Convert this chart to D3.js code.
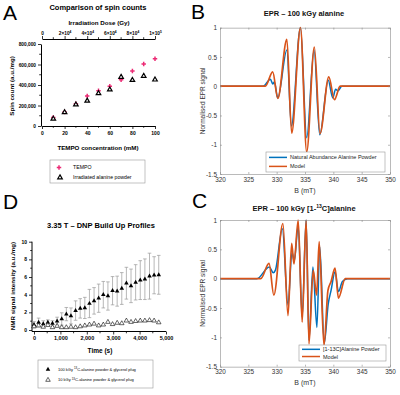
<!DOCTYPE html>
<html>
<head>
<meta charset="utf-8">
<script src="https://cdn.jsdelivr.net/npm/d3@7"></script>
<style>
body { margin: 0; background: #fff; }
svg { display: block; font-family: "Liberation Sans", Arial, sans-serif; }
</style>
</head>
<body>
<div id="fig"></div>
<script>
// ---- panel A: spin counts
var tempoConc = [10, 20, 30, 40, 50, 60, 70, 80, 90, 100];
var tempoSpin = [84000, 136000, 218000, 292000, 345000, 388000, 451000, 537000, 604000, 657000];
var alanineSpin = [70000, 133000, 209000, 246000, 318000, 355000, 478000, 448000, 488000, 452000];
var concTicks = [0, 20, 40, 60, 80, 100];
var spinTicks = [0, 200000, 400000, 600000, 800000];
var doseTicks = [0, 20000, 40000, 60000, 80000, 100000];
var doseLabels = [['0', ''], ['2×10', '4'], ['4×10', '4'], ['6×10', '4'], ['8×10', '4'], ['1×10', '5']];

// ---- panel D: DNP build up
var buildTime = [0, 175, 350, 525, 700, 875, 1050, 1225, 1400, 1575, 1750, 1925, 2100, 2275,
  2450, 2625, 2800, 2975, 3150, 3325, 3500, 3675, 3850, 4025, 4200, 4375, 4550, 4725];
var signal100 = [0.6, 0.85, 0.7, 0.85, 0.75, 1.0, 1.25, 1.8, 1.6, 2.2, 2.45, 2.5, 3.0, 3.3,
  3.6, 4.0, 3.85, 4.45, 4.4, 4.7, 5.3, 5.0, 5.4, 5.65, 5.75, 6.1, 6.2, 6.25];
var error100 = [0.35, 0.5, 0.35, 0.3, 0.3, 0.45, 0.7, 0.75, 0.9, 1.1, 1.1, 1.2, 1.6, 1.5,
  1.6, 1.5, 1.6, 1.6, 1.7, 1.8, 1.8, 1.9, 2.0, 2.2, 2.3, 2.6, 2.1, 2.2];
var signal10 = [0.4, 0.5, 0.35, 0.55, 0.3, 0.45, 0.3, 0.3, 0.35, 0.3, 0.4, 0.5, 0.6, 0.7,
  0.5, 0.6, 0.9, 0.65, 0.8, 0.75, 1.05, 0.9, 1.0, 1.05, 1.05, 1.1, 1.05, 0.85];
var timeTicks = [0, 1000, 2000, 3000, 4000, 5000];
var signalTicks = [0, 2, 4, 6, 8, 10];

// ---- panel B: natural abundance alanine
var fieldB_data = [320, 327.6, 328.9, 329.3, 329.6, 330.2, 331.8, 332.6, 334.2, 335.3, 336.6, 337.6, 339.1, 339.9, 340.4, 340.8, 341.5, 350];
var eprB_data = [0, 0, 0.12, 0.04, 0.07, -0.2, 0.62, -0.68, 1.0, -0.88, 0.62, -0.83, 0.1, -0.2, -0.05, -0.08, 0, 0];
var fieldB_model = [320, 328.0, 329.3, 330.2, 331.8, 332.65, 334.2, 335.3, 336.65, 337.65, 339.2, 340.2, 341.2, 350];
var eprB_model = [0, 0, 0.245, -0.21, 0.80, -0.80, 1.0, -1.12, 0.67, -0.81, 0.16, -0.23, 0, 0];

// ---- panel C: [1-13C]alanine
var fieldC_data = [320, 326.5, 328.7, 329.4, 329.8, 331.0, 332.0, 332.7, 333.1, 333.8, 334.5, 335.2, 335.7, 336.4, 337.1, 337.6, 338.4, 339.1, 339.6, 340.3, 340.9, 341.6, 342.5, 350];
var eprC_data = [0, 0, 0.2, 0.1, 0.15, 0.85, -0.45, 0.45, 0.3, 0.9, -0.65, 1.0, -1.05, 0.2, -0.83, 0.55, -1.1, -0.43, -0.2, 0.12, -0.22, -0.05, 0, 0];
var fieldC_model = [320, 327.2, 328.65, 329.5, 331.1, 332.0, 332.65, 333.05, 333.8, 334.5, 335.2, 335.7, 336.45, 337.05, 337.5, 338.35, 339.05, 339.6, 340.3, 340.9, 342.1, 350];
var eprC_model = [0, 0, 0.26, -0.28, 0.94, -0.63, 0.6, 0.25, 1.0, -0.74, 1.0, -1.11, 0.14, -0.28, 0.63, -1.14, -0.2, -0.05, 0.18, -0.33, 0, 0];

var fieldTicks = [320, 325, 330, 335, 340, 345, 350];
var eprTicks = [-1.5, -1, -0.5, 0, 0.5, 1];

var blue = '#0072BD', orange = '#D95319', pink = '#ec2a74';

var svg = d3.select('#fig').append('svg')
  .attr('width', 400)
  .attr('height', 395);

// panel letters
[['A', 3, 20], ['B', 191, 19], ['D', 3, 209], ['C', 192, 208]].forEach(function(l) {
  svg.append('text').attr('x', l[1]).attr('y', l[2]).attr('font-size', 21).text(l[0]);
});

function styleAxis(g, fs) {
  g.select('.domain').attr('stroke', '#000').attr('stroke-width', 1);
  g.selectAll('.tick line').attr('stroke', '#000').attr('stroke-width', 0.8);
  g.selectAll('.tick text').attr('font-size', fs).attr('font-weight', 'bold').attr('fill', '#000');
}

function minorTicks(g, scale, vals, dir, len) {
  g.selectAll('line.minor').data(vals).enter().append('line')
    .attr('class', 'minor')
    .attr('stroke', '#000').attr('stroke-width', 0.8)
    .attr('x1', function(d) { return dir == 'h' ? scale(d) : 0; })
    .attr('x2', function(d) { return dir == 'h' ? scale(d) : -len; })
    .attr('y1', function(d) { return dir == 'h' ? 0 : scale(d); })
    .attr('y2', function(d) { return dir == 'h' ? len : scale(d); });
}

// ================= A =================
var xA = d3.scaleLinear().domain([0, 100]).range([42, 155]);
var xDose = d3.scaleLinear().domain([0, 100000]).range([42, 155]);
var yA = d3.scaleLinear().domain([0, 800000]).range([126, 44]);

svg.append('text').attr('x', 98).attr('y', 10).attr('text-anchor', 'middle')
  .attr('font-size', 7.5).attr('font-weight', 'bold').text('Comparison of spin counts');
svg.append('text').attr('x', 99).attr('y', 25).attr('text-anchor', 'middle')
  .attr('font-size', 6.2).attr('font-weight', 'bold').text('Irradiation Dose (Gy)');

var gAx = svg.append('g').attr('transform', 'translate(0,126)')
  .call(d3.axisBottom(xA).tickValues(concTicks).tickSize(3).tickPadding(2).tickSizeOuter(0));
styleAxis(gAx, 5);
minorTicks(gAx, xA, [10, 30, 50, 70, 90], 'h', 1.8);

var gAy = svg.append('g').attr('transform', 'translate(41,0)')
  .call(d3.axisLeft(yA).tickValues(spinTicks).tickSize(3).tickPadding(2).tickSizeOuter(0));
styleAxis(gAy, 4.8);
minorTicks(gAy, yA, [100000, 300000, 500000, 700000], 'v', 1.8);

var gAt = svg.append('g').attr('transform', 'translate(0,39)')
  .call(d3.axisTop(xDose).tickValues(doseTicks).tickSize(3).tickPadding(1.5).tickSizeOuter(0).tickFormat(''));
styleAxis(gAt, 5);
minorTicks(gAt, xDose, [10000, 30000, 50000, 70000, 90000], 'h', -1.8);
gAt.selectAll('.tick').append('text')
  .attr('y', -4.5).attr('text-anchor', 'middle')
  .attr('font-size', 4.8).attr('font-weight', 'bold').attr('fill', '#000')
  .each(function(d, i) {
    var t = d3.select(this);
    t.append('tspan').text(doseLabels[i][0]);
    if (doseLabels[i][1]) t.append('tspan').attr('font-size', 3.2).attr('dy', -1.8).text(doseLabels[i][1]);
  });

svg.append('text').attr('x', 98).attr('y', 150).attr('text-anchor', 'middle')
  .attr('font-size', 6.2).attr('font-weight', 'bold').text('TEMPO concentration (mM)');
svg.append('text').attr('transform', 'translate(14,86) rotate(-90)').attr('text-anchor', 'middle')
  .attr('font-size', 6.2).attr('font-weight', 'bold').text('Spin count (a.u./mg)');

var star = d3.symbol().type(d3.symbolCross).size(11);
var tri = d3.symbol().type(d3.symbolTriangle).size(9);

svg.append('g').selectAll('path')
  .data(tempoConc)
  .enter()
  .append('path')
  .attr('d', star)
  .attr('fill', pink)
  .attr('transform', function(d, i) { return 'translate(' + xA(d) + ',' + yA(tempoSpin[i]) + ')'; });

svg.append('g').selectAll('path')
  .data(tempoConc)
  .enter()
  .append('path')
  .attr('d', tri)
  .attr('fill', '#fff')
  .attr('stroke', '#000')
  .attr('stroke-width', 1.2)
  .attr('transform', function(d, i) { return 'translate(' + xA(d) + ',' + yA(alanineSpin[i]) + ')'; });

// legend A
var legA = svg.append('g');
legA.append('rect').attr('x', 50).attr('y', 160).attr('width', 95).attr('height', 23)
  .attr('fill', '#fff').attr('stroke', '#999').attr('stroke-width', 0.6);
legA.append('path').attr('d', star).attr('fill', pink).attr('transform', 'translate(59,167.5)');
legA.append('path').attr('d', tri).attr('fill', '#fff').attr('stroke', '#000').attr('stroke-width', 1.2)
  .attr('transform', 'translate(60,177.5)');
legA.append('text').attr('x', 73).attr('y', 169.3).attr('font-size', 5.2).text('TEMPO');
legA.append('text').attr('x', 73).attr('y', 179.3).attr('font-size', 5.2).text('Irradiated alanine powder');

// ================= D =================
var xD = d3.scaleLinear().domain([0, 5000]).range([34, 166]);
var yD = d3.scaleLinear().domain([0, 10]).range([330, 241.7]);

svg.append('text').attr('x', 101).attr('y', 227.5).attr('text-anchor', 'middle')
  .attr('font-size', 7.5).attr('font-weight', 'bold').text('3.35 T – DNP Build Up Profiles');

var gDx = svg.append('g').attr('transform', 'translate(0,331.5)')
  .call(d3.axisBottom(xD).tickValues(timeTicks).tickSize(3).tickPadding(2).tickSizeOuter(0));
styleAxis(gDx, 5.5);
gDx.select('.domain').attr('d', 'M32,0H166');
minorTicks(gDx, xD, [500, 1500, 2500, 3500, 4500], 'h', 1.8);

var gDy = svg.append('g').attr('transform', 'translate(32,0)')
  .call(d3.axisLeft(yD).tickValues(signalTicks).tickSize(3).tickPadding(2).tickSizeOuter(0));
styleAxis(gDy, 5);
gDy.select('.domain').attr('d', 'M0,241.7V331.5');
minorTicks(gDy, yD, [1, 3, 5, 7, 9], 'v', 1.8);

svg.append('text').attr('x', 100).attr('y', 352.5).attr('text-anchor', 'middle')
  .attr('font-size', 6.5).attr('font-weight', 'bold').text('Time (s)');
svg.append('text').attr('transform', 'translate(15,286) rotate(-90)').attr('text-anchor', 'middle')
  .attr('font-size', 6.2).attr('font-weight', 'bold').text('NMR signal intensity (a.u./mg)');

var errG = svg.append('g').attr('stroke', '#9a9a9a').attr('stroke-width', 0.7);
errG.selectAll('line.bar').data(buildTime).enter().append('line')
  .attr('class', 'bar')
  .attr('x1', function(d) { return xD(d); }).attr('x2', function(d) { return xD(d); })
  .attr('y1', function(d, i) { return yD(signal100[i] - error100[i]); })
  .attr('y2', function(d, i) { return yD(signal100[i] + error100[i]); });
errG.selectAll('line.top').data(buildTime).enter().append('line')
  .attr('class', 'top')
  .attr('x1', function(d) { return xD(d) - 1.8; }).attr('x2', function(d) { return xD(d) + 1.8; })
  .attr('y1', function(d, i) { return yD(signal100[i] + error100[i]); })
  .attr('y2', function(d, i) { return yD(signal100[i] + error100[i]); });
errG.selectAll('line.bot').data(buildTime).enter().append('line')
  .attr('class', 'bot')
  .attr('x1', function(d) { return xD(d) - 1.8; }).attr('x2', function(d) { return xD(d) + 1.8; })
  .attr('y1', function(d, i) { return yD(signal100[i] - error100[i]); })
  .attr('y2', function(d, i) { return yD(signal100[i] - error100[i]); });

var triD = d3.symbol().type(d3.symbolTriangle).size(9);
svg.append('g').selectAll('path')
  .data(buildTime)
  .enter()
  .append('path')
  .attr('d', triD)
  .attr('fill', '#000')
  .attr('transform', function(d, i) { return 'translate(' + xD(d) + ',' + yD(signal100[i]) + ')'; });

svg.append('g').selectAll('path')
  .data(buildTime)
  .enter()
  .append('path')
  .attr('d', triD)
  .attr('fill', '#fff')
  .attr('stroke', '#000')
  .attr('stroke-width', 0.6)
  .attr('transform', function(d, i) { return 'translate(' + xD(d) + ',' + yD(signal10[i]) + ')'; });

// legend D
var legD = svg.append('g');
legD.append('rect').attr('x', 38).attr('y', 360).attr('width', 115).attr('height', 28)
  .attr('fill', '#fff').attr('stroke', '#999').attr('stroke-width', 0.6);
legD.append('path').attr('d', triD).attr('fill', '#000').attr('transform', 'translate(48,369.5)');
legD.append('path').attr('d', triD).attr('fill', '#fff').attr('stroke', '#000').attr('stroke-width', 0.6)
  .attr('transform', 'translate(48,380)');
[['100 kGy ', 369.3 + 1.3], ['10 kGy ', 380 + 1.3]].forEach(function(e) {
  var t = legD.append('text').attr('x', 58).attr('y', e[1]).attr('font-size', 4);
  t.append('tspan').text(e[0]);
  t.append('tspan').attr('font-size', 2.8).attr('dy', -1.5).text('13');
  t.append('tspan').attr('dy', 1.5).text('C-alanine powder & glycerol plug');
});

// ================= B and C (MATLAB style) =================
function eprPanel(top, bottom, titleY, titleParts, fData, vData, fModel, vModel, legName, leg) {
  var x = d3.scaleLinear().domain([320, 350]).range([220, 390]);
  var y = d3.scaleLinear().domain([-1.5, 1]).range([bottom, top]);
  var g = svg.append('g');

  g.append('rect').attr('x', 220).attr('y', top).attr('width', 170).attr('height', bottom - top)
    .attr('fill', '#fff');

  var line = d3.line()
    .x(function(d) { return x(d[0]); })
    .y(function(d) { return y(d[1]); })
    .curve(d3.curveMonotoneX);

  g.append('path')
    .attr('d', line(fData.map(function(f, i) { return [f, vData[i]]; })))
    .attr('fill', 'none').attr('stroke', blue).attr('stroke-width', 1.5);
  g.append('path')
    .attr('d', line(fModel.map(function(f, i) { return [f, vModel[i]]; })))
    .attr('fill', 'none').attr('stroke', orange).attr('stroke-width', 1.7);

  var gx = g.append('g').attr('transform', 'translate(0,' + bottom + ')')
    .call(d3.axisBottom(x).tickValues(fieldTicks).tickSize(-2).tickPadding(3).tickSizeOuter(0));
  var gx2 = g.append('g').attr('transform', 'translate(0,' + top + ')')
    .call(d3.axisTop(x).tickValues(fieldTicks).tickSize(-2).tickSizeOuter(0).tickFormat(''));
  var gy = g.append('g').attr('transform', 'translate(220,0)')
    .call(d3.axisLeft(y).tickValues(eprTicks).tickSize(-2).tickPadding(3).tickSizeOuter(0)
      .tickFormat(function(d) { return String(d); }));
  var gy2 = g.append('g').attr('transform', 'translate(390,0)')
    .call(d3.axisRight(y).tickValues(eprTicks).tickSize(-2).tickSizeOuter(0).tickFormat(''));
  [gx, gx2, gy, gy2].forEach(function(a) {
    a.select('.domain').attr('stroke', '#8c8c8c').attr('stroke-width', 0.6);
    a.selectAll('.tick line').attr('stroke', '#8c8c8c').attr('stroke-width', 0.6);
    a.selectAll('.tick text').attr('font-size', 6.4).attr('fill', '#333');
  });

  g.append('text').attr('x', 305).attr('y', bottom + 18.5).attr('text-anchor', 'middle')
    .attr('font-size', 7).attr('fill', '#333').text('B (mT)');
  g.append('text').attr('transform', 'translate(205,' + ((top + bottom) / 2) + ') rotate(-90)')
    .attr('text-anchor', 'middle').attr('font-size', 6.5).attr('fill', '#333').text('Normalised EPR signal');

  var tt = g.append('text').attr('x', 304).attr('y', titleY).attr('text-anchor', 'middle')
    .attr('font-size', 7.5).attr('font-weight', 'bold').attr('fill', '#111');
  titleParts.forEach(function(p) {
    if (p[1]) tt.append('tspan').attr('font-size', 5).attr('dy', -2.5).text(p[0]);
    else tt.append('tspan').attr('dy', p[2] || 0).text(p[0]);
  });

  var lg = g.append('g');
  lg.append('rect').attr('x', leg[0]).attr('y', leg[1]).attr('width', leg[2]).attr('height', leg[3])
    .attr('fill', '#fff').attr('stroke', '#999').attr('stroke-width', 0.6);
  [[blue, legName], [orange, 'Model']].forEach(function(e, i) {
    var yy = leg[1] + leg[3] * (i == 0 ? 0.27 : 0.72);
    lg.append('line').attr('x1', leg[0] + 3).attr('x2', leg[0] + 21).attr('y1', yy).attr('y2', yy)
      .attr('stroke', e[0]).attr('stroke-width', 1.5);
    lg.append('text').attr('x', leg[0] + 24).attr('y', yy + 2).attr('font-size', 5.5).attr('fill', '#222').text(e[1]);
  });
}

eprPanel(27.7, 174, 16, [['EPR – 100 kGy alanine']],
  fieldB_data, eprB_data, fieldB_model, eprB_model,
  'Natural Abundance Alanine Powder', [266, 152, 119, 20]);

eprPanel(220, 366.7, 210.5, [['EPR – 100 kGy [1-'], ['13', true], ['C]alanine', false, 2.5]],
  fieldC_data, eprC_data, fieldC_model, eprC_model,
  '[1-13C]Alanine Powder', [299, 345, 87, 16]);
</script>
</body>
</html>
